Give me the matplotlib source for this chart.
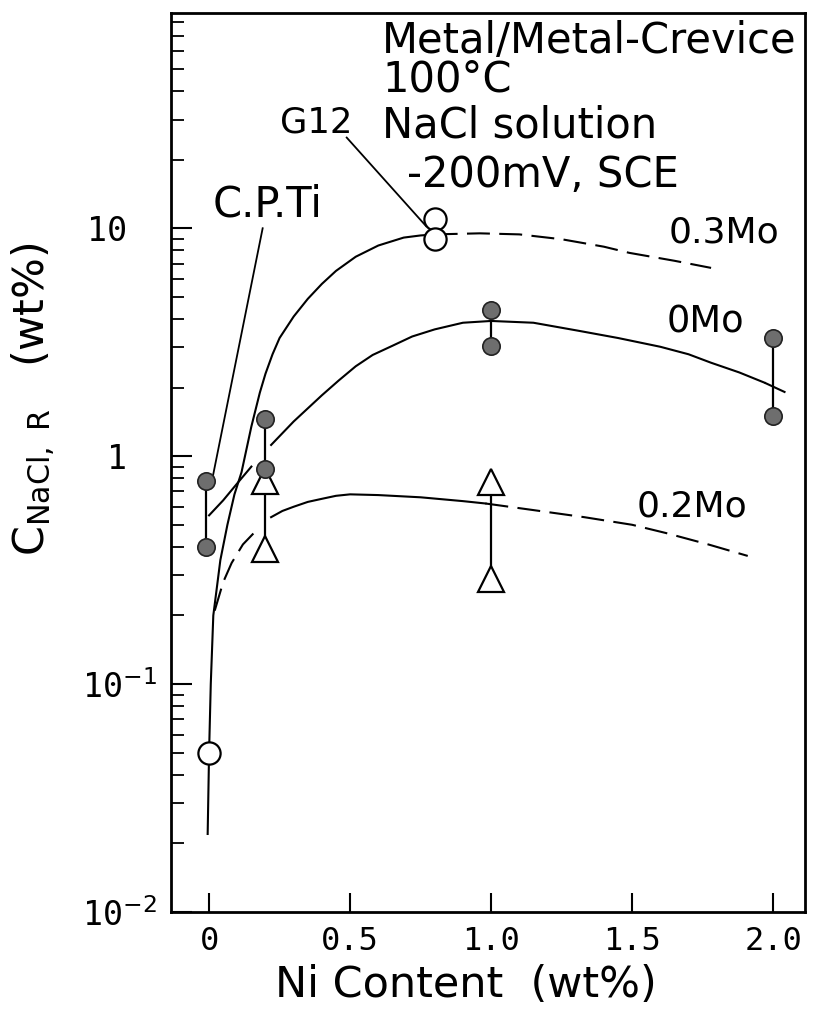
import matplotlib
matplotlib.use("Agg")
import matplotlib.pyplot as plt
from matplotlib.ticker import FixedLocator, LogLocator, NullFormatter
from matplotlib.transforms import ScaledTranslation

plt.rcParams["font.family"] = ["DejaVu Sans"]
plt.rcParams["mathtext.fontset"] = "dejavusans"
MONO = "DejaVu Sans Mono"

# measured points, Ni content (wt%) vs critical NaCl concentration (wt%)
ni_0mo = [-0.01, -0.01, 0.2, 0.2, 1.0, 1.0, 2.0, 2.0]
c_0mo = [0.78, 0.40, 1.45, 0.88, 4.4, 3.05, 3.3, 1.5]
ni_02mo = [0.2, 0.2, 1.0, 1.0]
c_02mo = [0.78, 0.39, 0.77, 0.29]
ni_03mo = [0.0, 0.8, 0.8]
c_03mo = [0.05, 11.0, 9.0]

# scatter bars joining repeat tests
bar_0mo_x = [-0.01, 0.2, 1.0, 2.0]
bar_0mo_lo = [0.40, 0.88, 3.05, 1.5]
bar_0mo_hi = [0.78, 1.45, 4.4, 3.3]
bar_02mo_x = [0.2, 1.0]
bar_02mo_lo = [0.39, 0.29]
bar_02mo_hi = [0.78, 0.77]

# hand-drawn trend curves
fit_03mo_x = [-0.005, 0.0, 0.006, 0.015, 0.04, 0.065, 0.09, 0.115, 0.15, 0.18,
              0.20, 0.225, 0.25, 0.30, 0.35, 0.40, 0.45, 0.52, 0.60, 0.69,
              0.75, 0.80]
fit_03mo_y = [0.022, 0.05, 0.1, 0.2, 0.35, 0.5, 0.68, 0.85, 1.35, 1.9,
              2.3, 2.8, 3.3, 4.1, 4.9, 5.7, 6.5, 7.5, 8.4, 9.1,
              9.3, 9.4]
ext_03mo_x = [0.80, 0.96, 1.10, 1.25, 1.40, 1.49, 1.65, 1.78]
ext_03mo_y = [9.4, 9.5, 9.4, 8.95, 8.3, 7.8, 7.2, 6.7]

fit_0mo_a_x = [0.0, 0.05, 0.10, 0.15]
fit_0mo_a_y = [0.55, 0.64, 0.76, 0.90]
fit_0mo_b_x = [0.22, 0.30, 0.40, 0.46, 0.52, 0.58, 0.65, 0.72, 0.80, 0.90,
               1.0, 1.15, 1.31, 1.45, 1.60, 1.70, 1.78, 1.88, 1.97]
fit_0mo_b_y = [1.12, 1.42, 1.85, 2.15, 2.48, 2.78, 3.05, 3.35, 3.6, 3.85,
               3.92, 3.85, 3.55, 3.3, 3.02, 2.8, 2.57, 2.33, 2.1]
ext_0mo_x = [1.97, 2.07]
ext_0mo_y = [2.1, 1.84]

ext_02mo_lo_x = [0.02, 0.05, 0.08, 0.12, 0.18]
ext_02mo_lo_y = [0.21, 0.28, 0.34, 0.41, 0.49]
fit_02mo_x = [0.22, 0.26, 0.30, 0.35, 0.40, 0.45, 0.50, 0.60, 0.75, 0.90, 0.98]
fit_02mo_y = [0.54, 0.575, 0.60, 0.63, 0.65, 0.67, 0.68, 0.675, 0.66, 0.635, 0.62]
ext_02mo_hi_x = [0.98, 1.15, 1.33, 1.50, 1.62, 1.77, 1.91]
ext_02mo_hi_y = [0.62, 0.58, 0.54, 0.50, 0.46, 0.41, 0.365]

xticks = [0, 0.5, 1.0, 1.5, 2.0]
xticklabels = ["0", "0.5", "1.0", "1.5", "2.0"]
yticks = [1e-2, 1e-1, 1, 10]
yticklabels = [r"10$^{-2}$", r"10$^{-1}$", "1", "10"]

fig = plt.figure(figsize=(8.21, 10.24), dpi=100)
ax = fig.add_axes([171 / 821, 1 - 912 / 1024, 634 / 821, 899 / 1024])
ax.set_yscale("log")
ax.set_xlim(-0.135, 2.113)
ax.set_ylim(1e-2, 88)

lw = 1.5
dash = (0, (11, 4.5))
ax.plot(fit_03mo_x, fit_03mo_y, color="k", lw=lw)
ax.plot(ext_03mo_x, ext_03mo_y, color="k", lw=lw, ls=dash)
ax.plot(fit_0mo_a_x, fit_0mo_a_y, color="k", lw=lw)
ax.plot(fit_0mo_b_x, fit_0mo_b_y, color="k", lw=lw)
ax.plot(ext_0mo_x, ext_0mo_y, color="k", lw=lw, ls=dash)
ax.plot(ext_02mo_lo_x, ext_02mo_lo_y, color="k", lw=lw, ls=dash)
ax.plot(fit_02mo_x, fit_02mo_y, color="k", lw=lw)
ax.plot(ext_02mo_hi_x, ext_02mo_hi_y, color="k", lw=lw, ls=dash)

ax.vlines(bar_0mo_x, bar_0mo_lo, bar_0mo_hi, color="k", lw=1.6)
ax.vlines(bar_02mo_x, bar_02mo_lo, bar_02mo_hi, color="k", lw=1.6)

ax.plot(ni_02mo, c_02mo, ls="none", marker="^", ms=19, mfc="white",
        mec="k", mew=1.6, zorder=4)
ax.plot(ni_0mo, c_0mo, ls="none", marker="o", ms=12.5, mfc="#6e6e6e",
        mec="#222222", mew=1.2, zorder=5)
ax.plot(ni_03mo, c_03mo, ls="none", marker="o", ms=16, mfc="white",
        mec="k", mew=1.6, zorder=5)

# pointers to the commercial grades
ax.plot([0.19, 0.012], [10.0, 0.8], color="k", lw=1.3, zorder=3)
ax.text(0.011, 11.3, "C.P.Ti", fontsize=30, ha="left", va="baseline")
ax.plot([0.488, 0.77], [25.0, 10.2], color="k", lw=1.3, zorder=3)
ax.text(0.252, 26.4, "G12", fontsize=25.5, ha="left", va="baseline")

ax.text(1.628, 8.68, "0.3Mo", fontsize=26, ha="left", va="baseline")
ax.text(1.624, 3.49, "0Mo", fontsize=26.5, ha="left", va="baseline")
ax.text(1.517, 0.543, "0.2Mo", fontsize=26, ha="left", va="baseline")

fig.text(382 / 821, 1 - 53 / 1024, "Metal/Metal-Crevice", fontsize=30, va="baseline")
fig.text(382 / 821, 1 - 92 / 1024, "100°C", fontsize=30, va="baseline")
fig.text(382 / 821, 1 - 138 / 1024, "NaCl solution", fontsize=30, va="baseline")
fig.text(407 / 821, 1 - 187 / 1024, "-200mV, SCE", fontsize=30, va="baseline")

ax.xaxis.set_major_locator(FixedLocator(xticks))
ax.set_xticklabels(xticklabels, family=MONO, fontsize=23)
ax.yaxis.set_major_locator(FixedLocator(yticks))
ax.yaxis.set_minor_locator(LogLocator(base=10, subs=range(2, 10), numticks=20))
ax.yaxis.set_minor_formatter(NullFormatter())
ax.set_yticklabels(yticklabels, family=MONO, fontsize=24, va="center_baseline")

ax.tick_params(axis="x", which="major", direction="in", length=14, width=1.5,
               pad=10, top=False)
ax.tick_params(axis="y", which="major", direction="in", length=15, width=1.5,
               pad=10, right=False)
ax.tick_params(axis="y", which="minor", direction="in", length=9, width=1.3,
               right=False)
# plain "10" and "1" line up with the base of the exponent labels
for lab in ax.get_yticklabels()[2:]:
    lab.set_transform(lab.get_transform() +
                      ScaledTranslation(-30 / 100, 0, fig.dpi_scale_trans))

for sp in ax.spines.values():
    sp.set_linewidth(2.0)

ax.set_xlabel("Ni Content  (wt%)", fontsize=31, va="center")
ax.xaxis.set_label_coords(0.4645, -0.0812)
ax.set_ylabel(r"C$_{\mathregular{NaCl,\ R}}$   (wt%)", fontsize=31, va="center")
ax.yaxis.set_label_coords(-0.216, 0.5706)

fig.savefig("out.png", dpi=100)
